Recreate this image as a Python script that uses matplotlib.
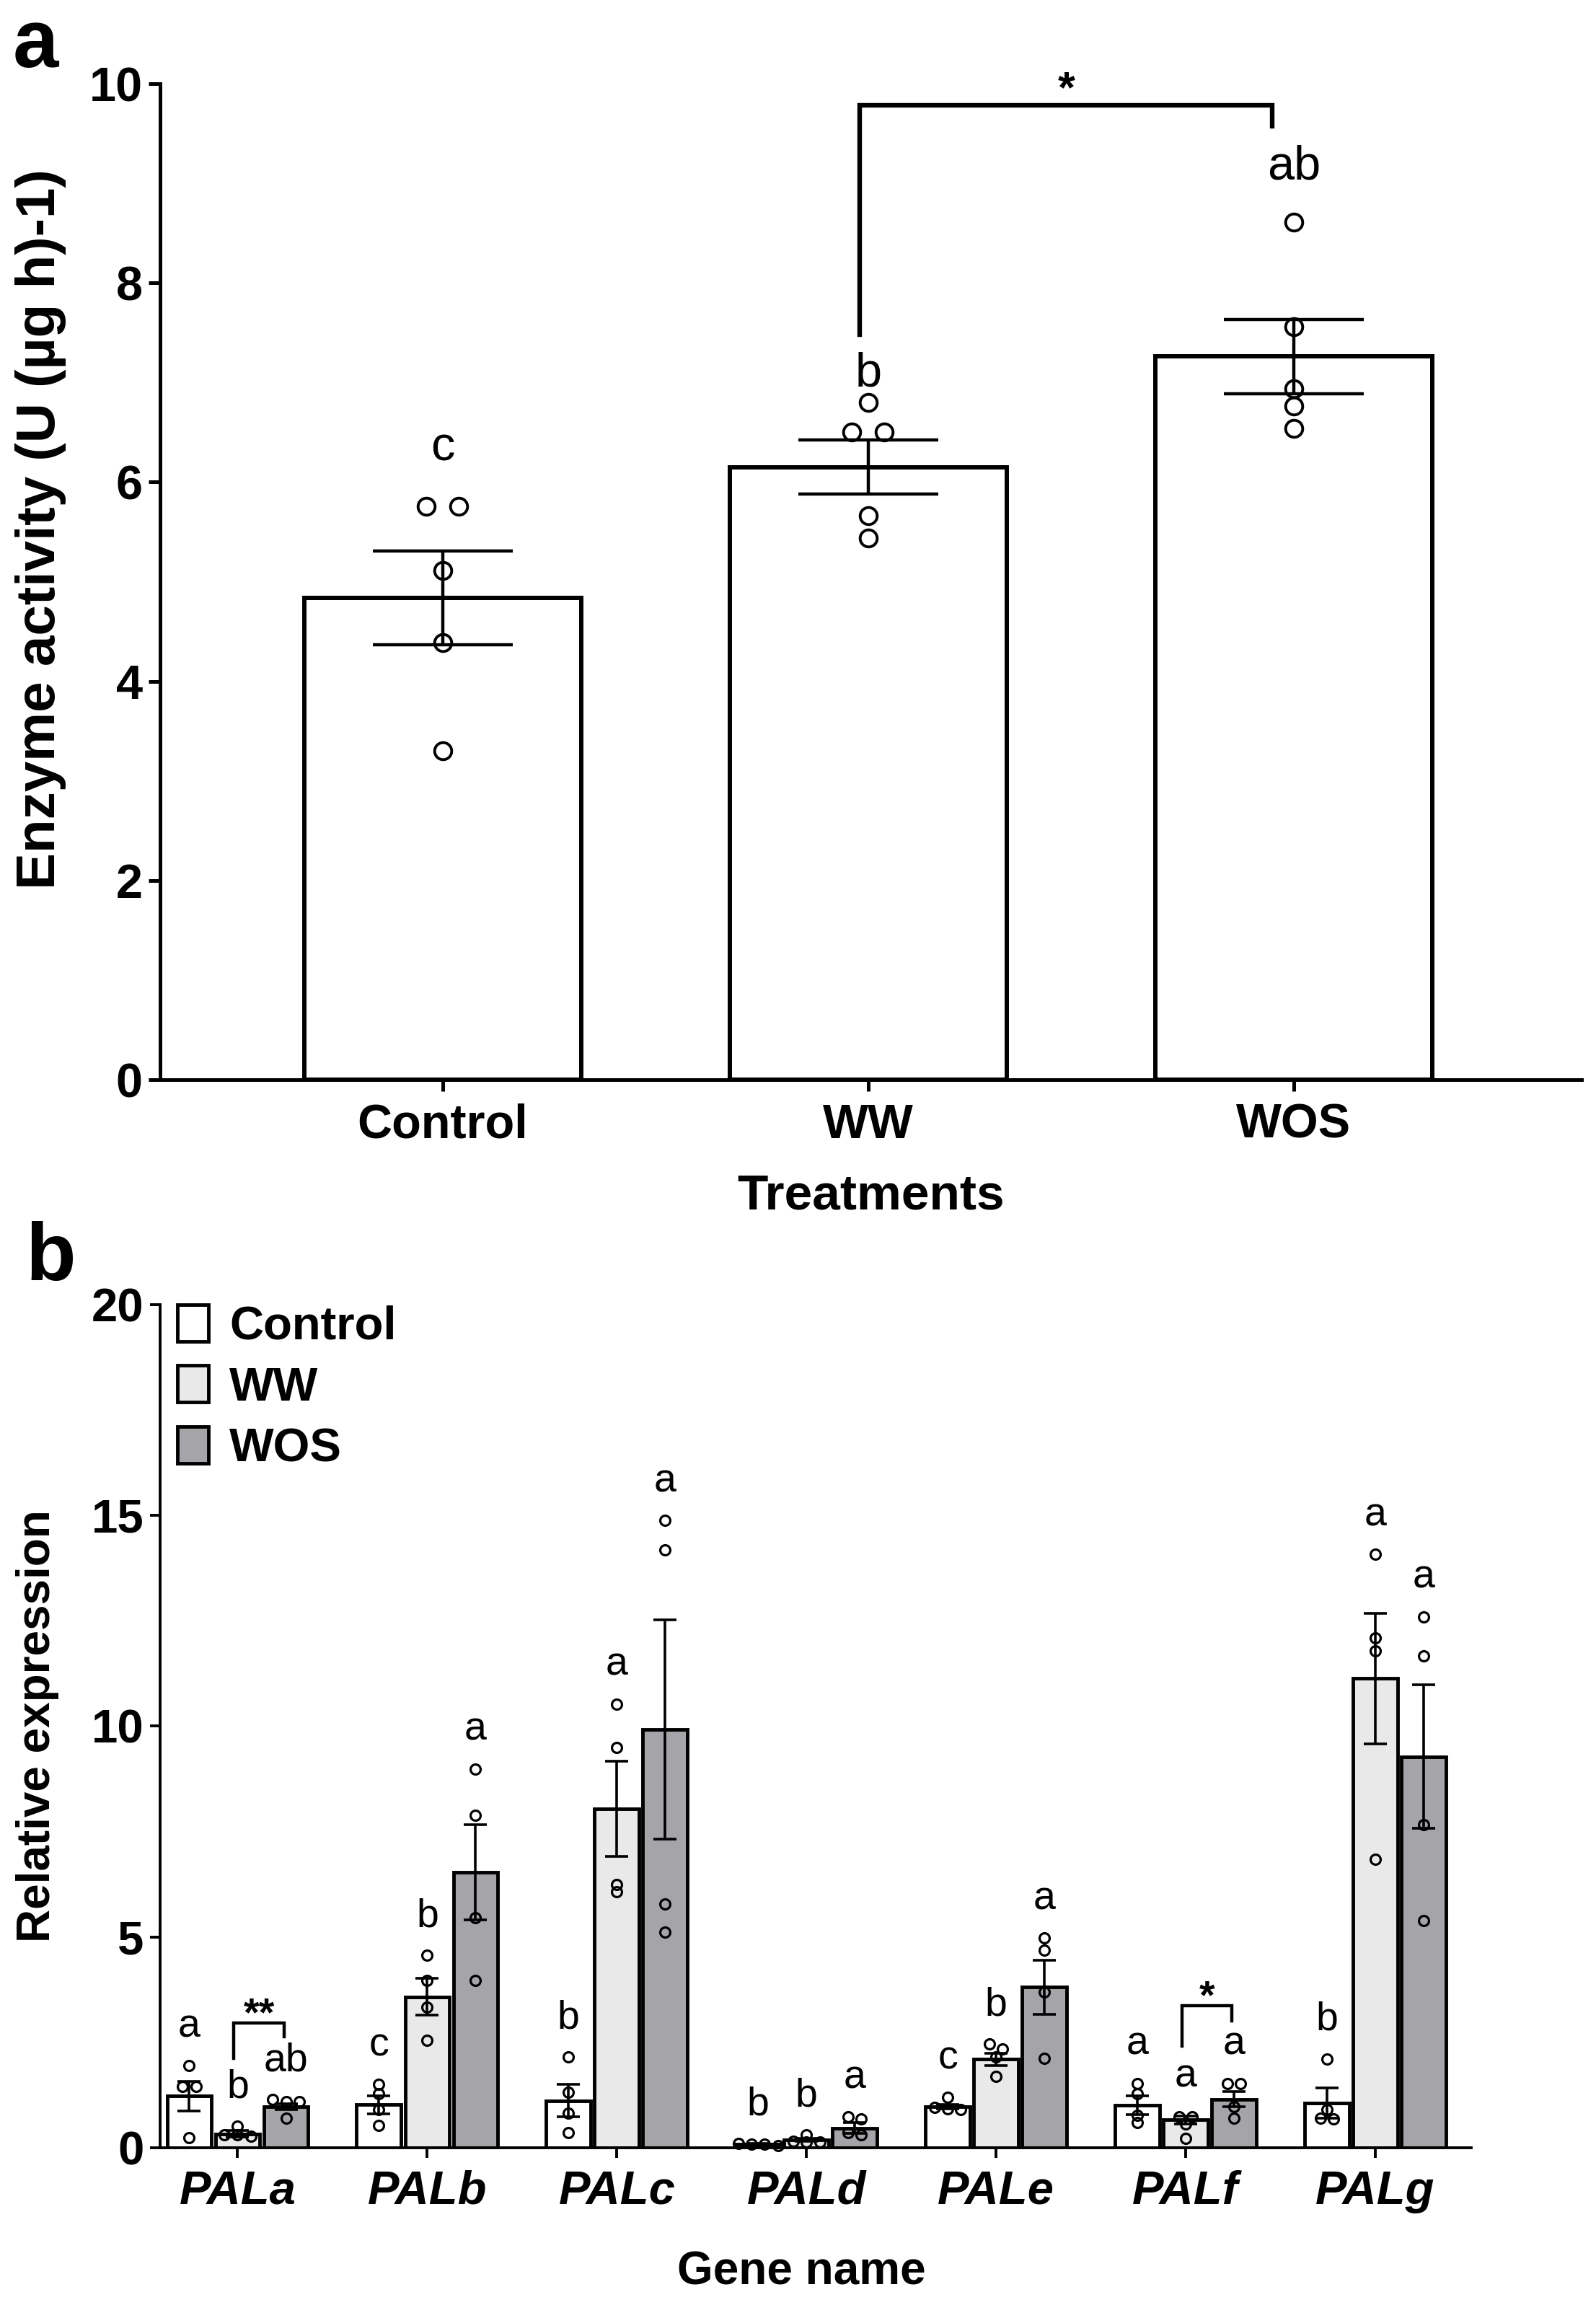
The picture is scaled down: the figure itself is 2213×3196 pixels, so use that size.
import matplotlib
matplotlib.use("Agg")
import matplotlib.pyplot as plt
from matplotlib.patches import Patch
import numpy as np

plt.rcParams["font.family"] = ["Liberation Sans", "DejaVu Sans"]

# Panel a: PAL enzyme activity
treatments = ["Control", "WW", "WOS"]
act_mean = [4.84, 6.15, 7.26]
act_sem = [0.47, 0.27, 0.37]
act_points = [
    [5.76, 5.76, 5.11, 4.39, 3.30],
    [6.80, 6.50, 6.50, 5.66, 5.44],
    [8.61, 7.56, 6.94, 6.76, 6.54],
]
act_letters = ["c", "b", "ab"]
act_letter_y = [6.22, 6.96, 9.04]
# (left group, right group, left foot, top, right foot, label)
act_sig = [(1, 2, 7.48, 9.78, 9.57, "*")]

# Panel b: relative expression of PAL genes
genes = ["PALa", "PALb", "PALc", "PALd", "PALe", "PALf", "PALg"]
groups = ["Control", "WW", "WOS"]
expr_mean = {
    "Control": [1.23, 1.02, 1.12, 0.08, 0.98, 1.01, 1.06],
    "WW": [0.33, 3.58, 8.04, 0.19, 2.10, 0.66, 11.13],
    "WOS": [0.98, 6.53, 9.93, 0.47, 3.81, 1.15, 9.28],
}
expr_sem = {
    "Control": [0.35, 0.22, 0.38, 0.02, 0.05, 0.22, 0.36],
    "WW": [0.08, 0.44, 1.13, 0.04, 0.15, 0.10, 1.55],
    "WOS": [0.07, 1.13, 2.60, 0.13, 0.64, 0.18, 1.70],
}
expr_points = {
    "Control": [
        [1.95, 1.45, 1.45, 0.24],
        [1.50, 1.28, 0.91, 0.53],
        [2.16, 1.31, 0.82, 0.36],
        [0.10, 0.08, 0.08, 0.06],
        [1.20, 0.96, 0.93, 0.91],
        [1.53, 1.29, 0.77, 0.60],
        [2.11, 0.91, 0.71, 0.69],
    ],
    "WW": [
        [0.51, 0.30, 0.30, 0.27],
        [4.57, 3.97, 3.34, 2.55],
        [10.53, 9.49, 6.24, 6.07],
        [0.31, 0.16, 0.14, 0.14],
        [2.46, 2.35, 2.16, 1.70],
        [0.74, 0.74, 0.57, 0.22],
        [14.08, 12.09, 11.78, 6.84],
    ],
    "WOS": [
        [1.15, 1.09, 1.09, 0.71],
        [8.99, 7.88, 5.45, 3.97],
        [14.88, 14.19, 5.78, 5.11],
        [0.74, 0.68, 0.36, 0.30],
        [4.98, 4.68, 3.69, 2.13],
        [1.53, 1.53, 0.98, 0.71],
        [12.60, 11.67, 7.66, 5.39],
    ],
}
expr_letters = {
    "Control": ["a", "c", "b", "b", "c", "a", "b"],
    "WW": ["b", "b", "a", "b", "b", "a", "a"],
    "WOS": ["ab", "a", "a", "a", "a", "a", "a"],
}
# (gene, label, left foot, top, right foot)
expr_sig = [("PALa", "**", 2.13, 2.96, 2.63), ("PALf", "*", 2.41, 3.37, 3.01)]

colors = {"Control": "white", "WW": "#e9e9e9", "WOS": "#a4a4a9"}


def spread(vals, thr, step):
    # simple column scatter: points that nearly coincide are put side by side
    vals = np.asarray(vals, dtype=float)
    order = np.argsort(-vals)
    offs = np.zeros(len(vals))
    clusters = [[order[0]]]
    for i in order[1:]:
        if abs(vals[clusters[-1][-1]] - vals[i]) < thr:
            clusters[-1].append(i)
        else:
            clusters.append([i])
    for c in clusters:
        k = len(c)
        for j, idx in enumerate(c):
            offs[idx] = (j - (k - 1) / 2) * step
    return offs


fig = plt.figure(figsize=(22.13, 31.96), dpi=100)

# ---------------- panel a ----------------
ax1 = fig.add_axes([0.1003, 0.5316, 0.8906, 0.4321])
xa = np.arange(len(treatments))
ax1.bar(xa, act_mean, width=0.65, color="white", edgecolor="black",
        linewidth=4.3, zorder=2)
ax1.errorbar(xa, act_mean, yerr=act_sem, fmt="none", ecolor="black",
             elinewidth=3.2, capsize=70, capthick=3.2, zorder=3)
for i, pts in enumerate(act_points):
    off = spread(pts, 0.08, 0.076)
    ax1.plot(i + off, pts, "o", ms=17, mfc="none", mec="black", mew=2.8,
             zorder=4, clip_on=False)
    ax1.text(i, act_letter_y[i], act_letters[i], ha="center", va="baseline",
             fontsize=48)
for l, r, yl, yt, yr, lab in act_sig:
    ax1.plot([l - 0.02, l - 0.02, r - 0.05, r - 0.05], [yl, yt, yt, yr],
             color="black", lw=4.6, clip_on=False, zorder=5,
             solid_joinstyle="miter")
    ax1.text((l + r) / 2 - 0.035, yt + 0.04, lab, ha="center",
             va="baseline", fontsize=44, fontweight="bold")

ax1.set_xlim(-0.664, 2.676)
ax1.set_ylim(0, 10)
ax1.set_yticks(np.arange(0, 11, 2))
ax1.set_xticks(xa)
ax1.set_xticklabels(treatments)
for s in ["top", "right"]:
    ax1.spines[s].set_visible(False)
for s in ["left", "bottom"]:
    ax1.spines[s].set_linewidth(3.6)
ax1.tick_params(direction="out", length=11.5, width=3.6, labelsize=48,
                pad=6)
ax1.tick_params(axis="x", pad=12)
for t in ax1.get_xticklabels() + ax1.get_yticklabels():
    t.set_fontweight("bold")
ax1.set_xlabel("Treatments", fontsize=50, fontweight="bold")
ax1.xaxis.set_label_coords(0.5, -0.094)
ax1.xaxis.label.set_va("top")
ax1.set_ylabel("Enzyme activity (U (µg h)-1)", fontsize=55,
               fontweight="bold")
ax1.yaxis.set_label_coords(-0.066, 0.553)

# ---------------- panel b ----------------
ax2 = fig.add_axes([0.1003, 0.0682, 0.8215, 0.3658])
xb = np.arange(len(genes))
w = 0.235
shift = {"Control": -0.255, "WW": 0.0, "WOS": 0.255}
for g in groups:
    xs = xb + shift[g]
    ax2.bar(xs, expr_mean[g], width=w, color=colors[g], edgecolor="black",
            linewidth=3.5, zorder=2)
    ax2.errorbar(xs, expr_mean[g], yerr=expr_sem[g], fmt="none",
                 ecolor="black", elinewidth=2.6, capsize=11.5, capthick=2.6,
                 zorder=3)
    for k in range(len(genes)):
        pts = expr_points[g][k]
        off = spread(pts, 0.12, 0.07)
        ax2.plot(xs[k] + off, pts, "o", ms=10, mfc="none", mec="black",
                 mew=2.3, zorder=4, clip_on=False)
        top = max(max(pts), expr_mean[g][k] + expr_sem[g][k])
        ax2.text(xs[k], top + 0.68, expr_letters[g][k], ha="center",
                 va="baseline", fontsize=40)
for gene, lab, yl, yt, yr in expr_sig:
    k = genes.index(gene)
    xl = xb[k] + shift["WW"] - 0.02
    xr = xb[k] + shift["WOS"] - 0.01
    ax2.plot([xl, xl, xr, xr], [yl, yt, yt, yr], color="black", lw=3.2,
             zorder=5, solid_joinstyle="miter")
    ax2.text((xl + xr) / 2, yt - 0.05, lab, ha="center", va="baseline",
             fontsize=40, fontweight="bold")

handles = [Patch(facecolor=colors[g], edgecolor="black", linewidth=3.5,
                 label=g) for g in groups]
leg = ax2.legend(handles=handles, loc="upper left",
                 bbox_to_anchor=(0.013, 1.0), frameon=False,
                 prop={"size": 47, "weight": "bold"}, handlelength=0.66,
                 handleheight=0.82, handletextpad=0.45, labelspacing=0.36,
                 borderpad=0, borderaxespad=0)

ax2.set_xlim(-0.409, 6.506)
ax2.set_ylim(0, 20)
ax2.set_yticks(np.arange(0, 21, 5))
ax2.set_xticks(xb)
ax2.set_xticklabels(genes)
for s in ["top", "right"]:
    ax2.spines[s].set_visible(False)
for s in ["left", "bottom"]:
    ax2.spines[s].set_linewidth(2.8)
ax2.tick_params(direction="out", length=10, width=2.8, labelsize=47, pad=6)
ax2.tick_params(axis="x", pad=12)
for t in ax2.get_yticklabels():
    t.set_fontweight("bold")
for t in ax2.get_xticklabels():
    t.set_fontweight("bold")
    t.set_fontstyle("italic")
ax2.set_xlabel("Gene name", fontsize=46, fontweight="bold")
ax2.xaxis.set_label_coords(0.489, -0.122)
ax2.xaxis.label.set_va("top")
ax2.set_ylabel("Relative expression", fontsize=46, fontweight="bold")
ax2.yaxis.set_label_coords(-0.077, 0.5)

# panel letters
fig.text(0.008, 0.971, "a", fontsize=82, fontweight="bold", va="baseline")
fig.text(0.016, 0.4446, "b", fontsize=82, fontweight="bold", va="baseline")

fig.savefig("out.png", dpi=100)
